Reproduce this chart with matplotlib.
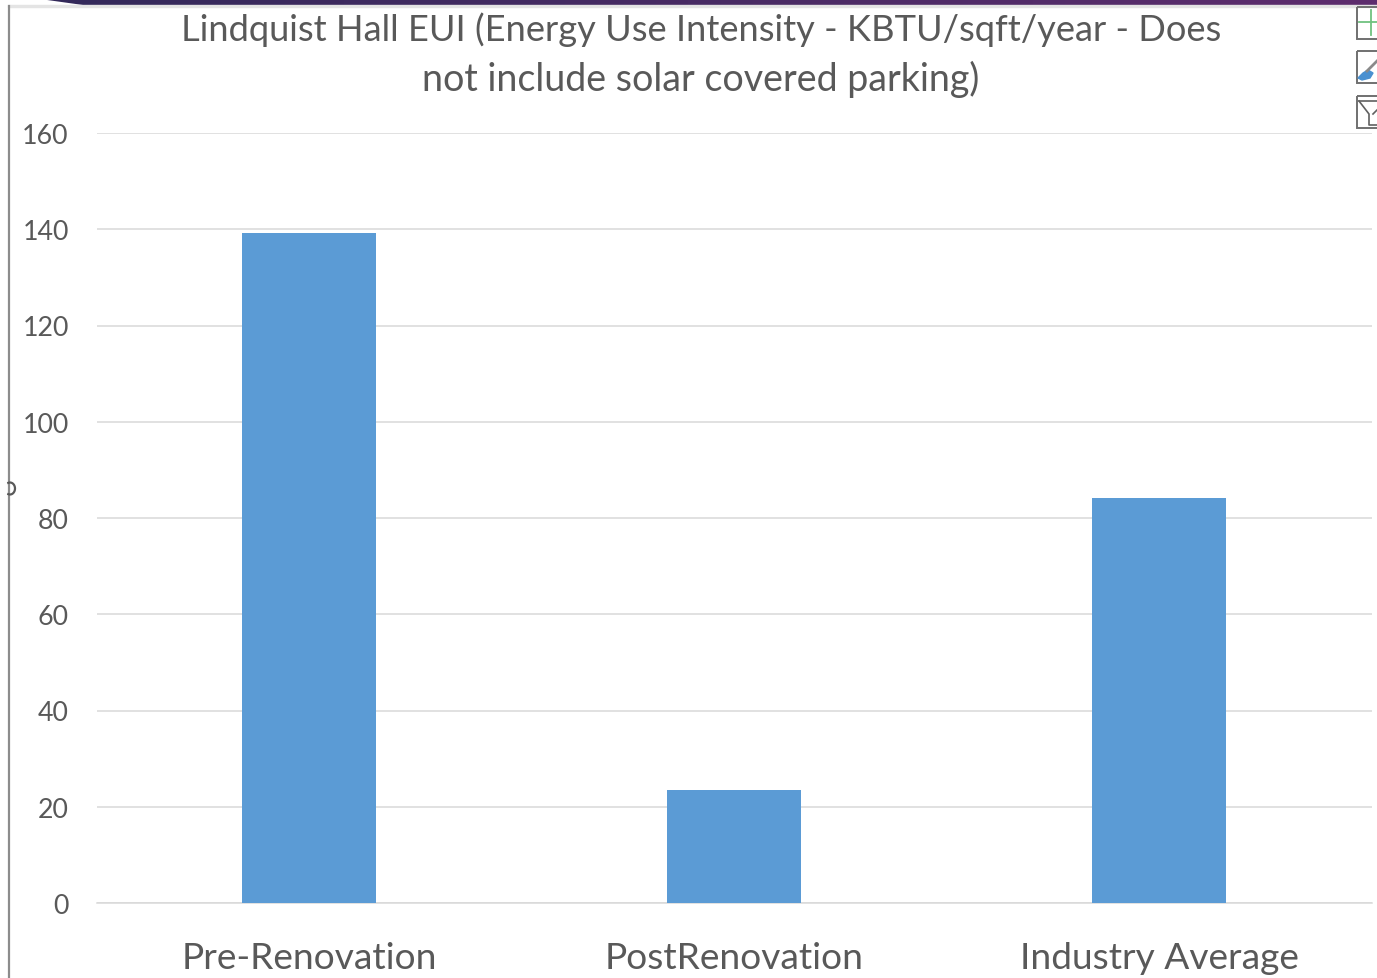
import numpy as np
from matplotlib import pyplot as plt
from matplotlib.colors import LinearSegmentedColormap
from matplotlib.patches import Rectangle, Polygon

categories = ['Pre-Renovation', 'PostRenovation', 'Industry Average']
eui = [139.2, 23.5, 84.2]
y_ticks = [0, 20, 40, 60, 80, 100, 120, 140, 160]
title_lines = ['Lindquist Hall EUI (Energy Use Intensity - KBTU/sqft/year - Does',
               'not include solar covered parking)']

W, H = 1377, 979
plt.rcParams['font.family'] = ['Lato', 'DejaVu Sans']

fig = plt.figure(figsize=(W / 100, H / 100), dpi=100, facecolor='white')

# plot area in pixels, measured on the picture
ax = fig.add_axes([96.5 / W, 1 - 904 / H, 1275 / W, 770 / H])
ax.bar(np.arange(3), eui, width=0.313, color='#5B9BD5', zorder=3)
ax.set_xlim(-0.5, 2.5)
ax.set_ylim(0, 160)
ax.set_yticks(y_ticks)
ax.set_xticks(np.arange(3))
ax.set_xticklabels(categories, fontsize=26.7, color='#595959')
ax.tick_params(axis='x', length=0, pad=27.5)
ax.tick_params(axis='y', length=0, pad=20, labelsize=19.3, labelcolor='#595959')
ax.grid(axis='y', color='#D9D9D9', linewidth=1.1, zorder=0)
ax.set_axisbelow(True)
for side in ['top', 'right', 'left']:
    ax.spines[side].set_visible(False)
ax.spines['bottom'].set_color('#D9D9D9')
ax.spines['bottom'].set_linewidth(1.1)

# two separate lines, the second one runs a bit wider in the original
fig.text(701 / W, 1 - 41 / H, title_lines[0], ha='center', va='baseline', fontsize=26.1, color='#595959')
fig.text(701 / W, 1 - 90.5 / H, title_lines[1], ha='center', va='baseline', fontsize=27.05, color='#595959')

# window bits around the chart, pixel coordinates
over = fig.add_axes([0, 0, 1, 1], facecolor='none')
band = LinearSegmentedColormap.from_list('band', ['#32295A', '#5E2D6E'])
img = over.imshow(np.linspace(0, 1, 256)[None, :], cmap=band, extent=(0, W, 5.5, 0), aspect='auto')
img.set_clip_path(Polygon([(40, 0), (W, 0), (W, 5.5), (83, 5.5)], transform=over.transData))
over.set_xlim(0, W)
over.set_ylim(H, 0)
over.axis('off')
over.add_patch(Rectangle((8, 6), W - 8, 1.5, color='#E4E4E4'))
over.plot([9, 9], [7, 979], color='#8C8C8C', lw=1.6)
t = np.radians(np.arange(-110, 111, 10))
over.plot(10 + 5 * np.cos(t), 489.5 + 6 * np.sin(t), color='#595959', lw=1.6)
for top in [7.5, 52, 97]:
    over.add_patch(Rectangle((1356.5, top), 30, 32, fill=False, ec='#707070', lw=1.4))
over.plot([1359, 1377], [23, 23], color='#70C17F', lw=1.3)
over.plot([1371, 1371], [11, 36], color='#70C17F', lw=1.3)
over.plot([1367, 1377], [72, 62], color='#8A8A8A', lw=2)
over.add_patch(Polygon([(1358, 79), (1363, 74), (1368, 71), (1373, 74), (1370, 79), (1362, 81)], color='#4A90D0'))
over.plot([1359, 1377], [102, 102], color='#606060', lw=1.2)
over.plot([1359, 1369, 1369, 1377], [102, 115, 126, 126], color='#606060', lw=1.2)
over.plot([1373, 1377], [115, 111], color='#606060', lw=1.2)

fig.savefig('out.png', dpi=100)
